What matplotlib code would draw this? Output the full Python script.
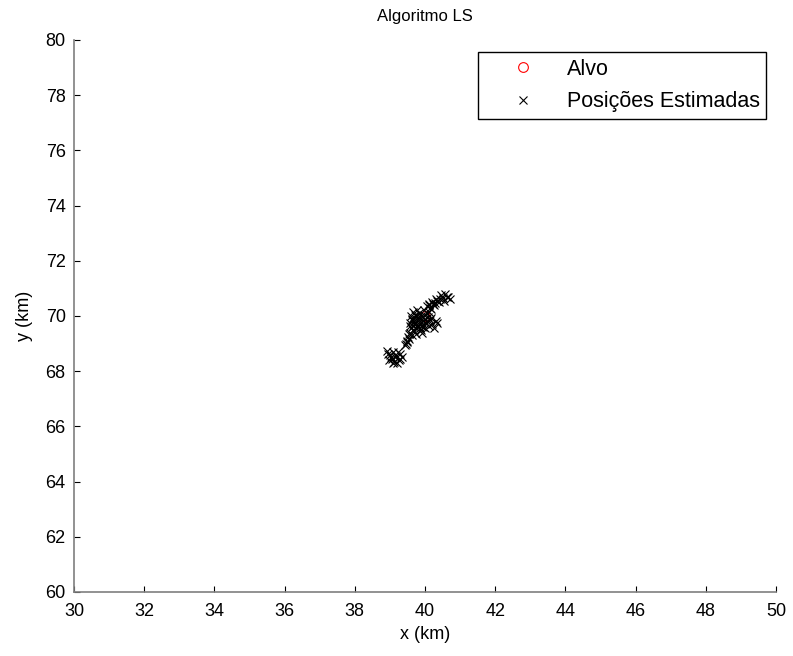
import matplotlib
matplotlib.use("Agg")
import matplotlib.pyplot as plt

plt.rcParams['font.family'] = ['Liberation Sans', 'DejaVu Sans']

# True target position (km)
target_x = [40.0]
target_y = [70.0]

# Estimated positions from the LS algorithm (km)
est_x = [38.92, 39.00, 39.05, 39.12, 39.18, 39.25, 39.30, 39.10, 38.98, 39.20, 39.35, 39.15,
         39.02, 39.22, 39.08, 39.28, 38.95,
         39.42, 39.48, 39.52, 39.55, 39.58, 39.62, 39.60, 39.65, 39.56, 39.62, 39.50,
         39.45, 39.53, 39.66, 39.58,
         39.70, 39.75, 39.80, 39.85, 39.90, 39.95, 40.00, 40.05, 39.72, 39.65, 39.78, 39.88,
         39.92, 40.00, 40.10, 40.15, 40.20, 40.25, 40.30, 39.82, 39.98, 40.08, 39.70, 39.75,
         40.12, 39.60, 40.35, 39.95, 39.85, 39.68, 39.76, 39.84, 39.93, 40.03, 39.87, 39.79,
         39.73, 40.18, 39.97, 39.63, 39.83, 40.07,
         40.05, 40.10, 40.15, 40.20, 40.25, 40.30, 40.35, 40.45, 40.50, 40.55, 40.62, 40.70,
         40.40, 40.58, 40.18, 40.12, 40.28, 40.42, 40.66, 40.22]
est_y = [68.72, 68.60, 68.45, 68.35, 68.55, 68.40, 68.62, 68.68, 68.40, 68.28, 68.50, 68.50,
         68.52, 68.70, 68.30, 68.45, 68.62,
         68.95, 69.10, 69.25, 69.18, 69.40, 69.32, 69.55, 69.62, 69.75, 69.85, 69.05,
         69.00, 69.35, 69.48, 69.65,
         69.70, 69.90, 69.60, 69.80, 70.00, 69.70, 69.90, 70.10, 70.05, 70.15, 70.20, 69.50,
         69.40, 69.55, 69.65, 69.85, 69.70, 69.55, 69.80, 70.10, 70.20, 69.95, 69.45, 69.35,
         70.15, 70.00, 69.75, 69.60, 69.95, 69.82, 69.62, 69.70, 69.82, 69.75, 69.58, 69.98,
         69.55, 69.92, 70.05, 69.88, 69.85, 69.80,
         70.35, 70.45, 70.30, 70.50, 70.40, 70.60, 70.55, 70.75, 70.65, 70.55, 70.70, 70.60,
         70.50, 70.80, 70.25, 70.38, 70.48, 70.62, 70.68, 70.42]

x_ticks = [30, 32, 34, 36, 38, 40, 42, 44, 46, 48, 50]
y_ticks = [60, 62, 64, 66, 68, 70, 72, 74, 76, 78, 80]

fig = plt.figure(figsize=(7.93, 6.56), dpi=100)
ax = fig.add_axes([0.0933, 0.0976, 0.8853, 0.8415])

ax.plot(target_x, target_y, linestyle='none', marker='o', markersize=7,
        markerfacecolor='none', markeredgecolor='red', markeredgewidth=0.8, label='Alvo')
ax.plot(est_x, est_y, linestyle='none', marker='x', markersize=6,
        color='black', markeredgewidth=0.8, label='Posições Estimadas')

ax.set_xlim(30, 50)
ax.set_ylim(60, 80)
ax.set_xticks(x_ticks)
ax.set_yticks(y_ticks)

for side in ('top', 'right'):
    ax.spines[side].set_visible(False)
for side in ('left', 'bottom'):
    ax.spines[side].set_color('#7f7f7f')
    ax.spines[side].set_linewidth(1.2)

ax.tick_params(direction='in', length=4, width=0.8, color='black', labelsize=13)
ax.tick_params(axis='x', pad=8)
ax.tick_params(axis='y', pad=6)

ax.set_xlabel('x (km)', fontsize=13, labelpad=4)
ax.set_ylabel('y (km)', fontsize=13, labelpad=9)
ax.set_title('Algoritmo LS', fontsize=12, pad=14)

leg = ax.legend(loc='upper right', bbox_to_anchor=(0.986, 0.978), fontsize=15.5,
                fancybox=False, framealpha=1, edgecolor='black',
                borderpad=0.3, handletextpad=0.3, labelspacing=0.55, handlelength=3.5,
                borderaxespad=0)
leg.get_frame().set_linewidth(1.0)

fig.savefig('out.png', dpi=100)
